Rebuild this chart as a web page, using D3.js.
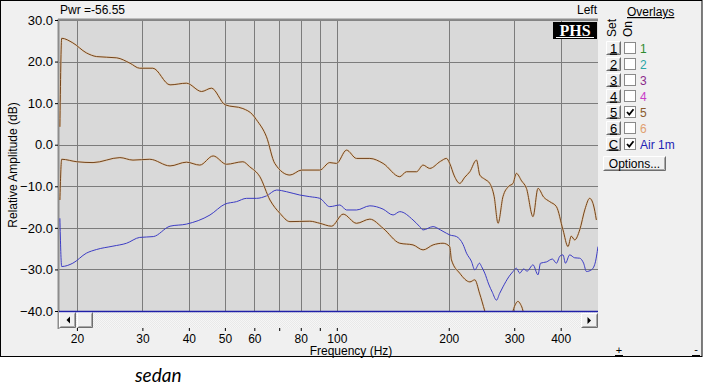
<!DOCTYPE html>
<html><head><meta charset="utf-8">
<script src="https://cdn.jsdelivr.net/npm/d3@7/dist/d3.min.js"></script>
<style>
html,body{margin:0;padding:0;background:#fff;}
svg{display:block;font-family:"Liberation Sans",Arial,sans-serif;}
</style></head>
<body>
<svg id="c" width="703" height="392"></svg>
<script>
// ---------- data ----------
const freqTicks = [20,30,40,50,60,70,80,90,100,200,300,400];
const freqLabels = ["20","30","40","50","60","","80","","100","200","300","400"];
const dbTicks = [30,20,10,0,-10,-20,-30,-40];

// Overlay 5 upper trace (freq Hz, dB)
const set5UpperFreq = [18.0,18.2,19.5,21.2,22.6,25.6,27.8,29.5,32.0,35.6,39.4,43.3,46.0,50.1,55.9,59.4,60.8,64.7,68.1,74.8,80.4,90.0,95.7,99.8,106.2,113,122.7,133.2,147.7,153.9,163.8,170.6,177.8,190,197.2,201.2,207,214.1,221,227.9,237.5,242.4,250,257.8,265,271.4,279.8,290,297.8,304,314,323.6,337,347.6,360,373.8,389.6,405.8,418.6,427,436.4,450,465,478.6,490,499];
const set5UpperDb   = [4.3,25.6,24.5,22.1,21.2,20.9,19.6,18.4,18.4,14.4,14.8,12.8,13.6,9.6,8.7,7.2,6.0,1.9,-4.5,-7.3,-6.1,-6.1,-4.3,-4.5,-1.3,-3.3,-3.3,-4.5,-7.7,-6.5,-6.5,-4.9,-5.7,-4.0,-3.3,-4.5,-7.5,-9.3,-7.8,-6.5,-3.7,-7.3,-8.3,-9.3,-12.5,-18.9,-12.5,-10.0,-9.3,-6.9,-8.7,-10.5,-17.3,-10.5,-12.6,-13.7,-14.9,-20.5,-24.5,-22.0,-22.9,-20.5,-15.5,-12.9,-14.5,-18.1];

// Overlay 5 lower trace
const set5LowerFreq = [18.0,18.2,20.0,22.1,26.1,28.3,31.4,35.6,39.4,42.8,46.5,50.5,55.9,58.3,62.1,66.1,70.3,74.8,84.6,90.0,96.8,104.0,113,122.7,133.2,147.7,160.3,170.6,181.5,193.1,201.2,203.4,214,228,235,242,250,258,265,292,297.8,303,307,312,316.8,322];
const set5LowerDb   = [-13.3,-3.5,-4.1,-4.3,-3.1,-3.7,-3.5,-5.1,-4.2,-4.9,-2.7,-4.7,-4.1,-5.3,-7.7,-13.3,-16.5,-18.5,-18.4,-18.9,-19.6,-16.7,-18.9,-17.9,-20.1,-23.7,-24.1,-25.3,-24.1,-23.7,-24.5,-27.7,-30.9,-33.0,-32.5,-35.7,-40.0,-44,-46,-44,-40.0,-38.2,-37.7,-38.4,-40.0,-44];

// Current "Air 1m" trace
const air1mFreq = [18.0,18.2,19.5,21.2,22.6,25.0,27.2,29.5,32.1,35.6,39.4,45.6,50.0,53.7,57.2,60.8,64.7,68.9,73.2,79.5,84.6,90.0,95.7,101.9,106.2,113,122.7,133.2,141.7,147.7,160.3,167.1,170.6,181.5,190,197.2,201.2,209.8,218.6,223.3,230,235,242,245,250,256,262,268.8,274,279.8,290,297.8,304,310.4,318,325,337,347.6,353,366.2,380,389.6,398,405.8,412,423,436,450,461,469.2,483.8,495,504];
const air1mDb   = [-17.7,-29.3,-28.5,-26.1,-25.2,-24.4,-23.7,-22.3,-22.1,-19.6,-19.1,-16.9,-14.3,-13.7,-12.9,-12.9,-12.3,-10.9,-11.3,-12.1,-12.5,-12.9,-14.9,-14.5,-15.7,-15.7,-14.7,-15.5,-16.9,-16.1,-18.1,-19.7,-20.5,-19.7,-20.5,-21.3,-21.7,-22.1,-24.0,-26.1,-28.0,-30.1,-28.5,-29.3,-30.9,-33.5,-35.5,-37.4,-35.8,-34.2,-31.8,-30.5,-29.7,-30.9,-29.9,-30.4,-28.9,-31.3,-28.5,-28.2,-27.5,-28.5,-26.8,-26.5,-28.5,-26.5,-27.2,-27.3,-28.5,-30.5,-30.1,-28.5,-24.5];

const overlayNames  = ["1","2","3","4","5","6","Air 1m"];
const overlayButtons = ["1","2","3","4","5","6","C"];
const overlayOn     = [false,false,false,false,true,false,true];
const overlayColors = ["#2e8b2e","#2aa6a6","#8b2a8b","#c83cc8","#8a5a2c","#e0a070","#2323b4"];

// ---------- drawing ----------
const FS = 12;
const svg = d3.select("#c");
const L = 59, R = 598, T = 20, B = 311;
const x = d3.scaleLog().domain([17.9, 504]).range([L, R]);
const y = d3.scaleLinear().domain([-40, 30]).range([B, T]);

// window panel
svg.append("rect").attr("x",0.5).attr("y",0.5).attr("width",701.5).attr("height",356)
  .attr("fill","#f0f0f0").attr("stroke","#000").attr("stroke-width",1);

// plot background
svg.append("rect").attr("x",L).attr("y",T).attr("width",R-L).attr("height",B-T).attr("fill","#d9d9d9");

// grid
const grid = svg.append("g").attr("stroke","#7c7c7c").attr("stroke-width",1);
freqTicks.forEach(f=>{
  const px = Math.round(x(f))+0.5;
  grid.append("line").attr("x1",px).attr("x2",px).attr("y1",T).attr("y2",B);
});
dbTicks.forEach(d=>{
  const py = Math.round(y(d))+0.5;
  grid.append("line").attr("x1",L).attr("x2",R).attr("y1",py).attr("y2",py);
});
// top & left border of plot
svg.append("line").attr("x1",L-1).attr("x2",R).attr("y1",T-0.5).attr("y2",T-0.5).attr("stroke","#8c8c8c").attr("stroke-width",2);
svg.append("line").attr("x1",L-0.5).attr("x2",L-0.5).attr("y1",T-1).attr("y2",B+18).attr("stroke","#8c8c8c").attr("stroke-width",2);

// clip
svg.append("clipPath").attr("id","pc").append("rect").attr("x",L).attr("y",T).attr("width",R-L).attr("height",B-T);
const plot = svg.append("g").attr("clip-path","url(#pc)");

const line = d3.line().x(d=>x(d[0])).y(d=>y(d[1])).curve(d3.curveMonotoneX);
function zip(a,b){return a.map((v,i)=>[v,b[i]]);}
function trace(fr, db, color, halo){
  const pts = zip(fr, db);
  if (halo) plot.append("path").attr("d",line(pts)).attr("fill","none").attr("stroke",halo).attr("stroke-width",2.2).attr("opacity",0.6);
  plot.append("path").attr("d",line(pts)).attr("fill","none").attr("stroke",color).attr("stroke-width",1);
}
trace(air1mFreq, air1mDb, "#3c3cc4", null);
trace(set5UpperFreq, set5UpperDb, "#74441a", "#e6c9a8");
trace(set5LowerFreq, set5LowerDb, "#74441a", "#e6c9a8");

// y axis
const yAxis = d3.axisLeft(y).tickValues(dbTicks).tickFormat(d3.format(".1f")).tickSize(3).tickPadding(2);
const ya = svg.append("g").attr("transform",`translate(${L-1},0)`).call(yAxis);
ya.attr("font-family",null).attr("font-size",null);
ya.select(".domain").remove();
ya.selectAll("line").attr("stroke","#000");
ya.selectAll("text").attr("font-size",13).attr("fill","#000");

// scrollbar
const sb = svg.append("g");
const defs = svg.append("defs");
const pat = defs.append("pattern").attr("id","hatch").attr("width",2).attr("height",2).attr("patternUnits","userSpaceOnUse");
pat.append("rect").attr("width",2).attr("height",2).attr("fill","#f6f6f6");
pat.append("rect").attr("width",1).attr("height",1).attr("fill","#e9e9e9");
pat.append("rect").attr("x",1).attr("y",1).attr("width",1).attr("height",1).attr("fill","#e9e9e9");
sb.append("rect").attr("x",L).attr("y",312).attr("width",R-L).attr("height",16).attr("fill","url(#hatch)");
function btn3d(g,x0,y0,w,h){
  g.append("rect").attr("x",x0).attr("y",y0).attr("width",w).attr("height",h).attr("fill","#f0f0f0");
  g.append("path").attr("d",`M${x0+0.5},${y0+h-0.5}V${y0+0.5}H${x0+w-0.5}`).attr("stroke","#fff").attr("fill","none");
  g.append("path").attr("d",`M${x0+0.5},${y0+h-0.5}H${x0+w-0.5}V${y0+0.5}`).attr("stroke","#6e6e6e").attr("fill","none");
  g.append("path").attr("d",`M${x0+1.5},${y0+h-1.5}H${x0+w-1.5}V${y0+1.5}`).attr("stroke","#a8a8a8").attr("fill","none");
}
btn3d(sb,L,312,17,16);
btn3d(sb,77,312,16,16);
btn3d(sb,581,313,17,15);
sb.append("path").attr("d","M70,316.5 L66.5,320 L70,323.5Z").attr("fill","#000");
sb.append("path").attr("d","M587.5,317 L591,320.5 L587.5,324Z").attr("fill","#000");
// blue baseline
svg.append("line").attr("x1",L).attr("x2",R).attr("y1",B+0.5).attr("y2",B+0.5).attr("stroke","#2020a8").attr("stroke-width",1.5);

// x axis
const xAxis = d3.axisBottom(x).tickValues(freqTicks).tickFormat((d,i)=>freqLabels[i]).tickSize(3).tickPadding(3);
const xa = svg.append("g").attr("transform","translate(0,328)").call(xAxis);
xa.attr("font-family",null).attr("font-size",null);
xa.select(".domain").remove();
xa.selectAll("line").attr("stroke","#000");
xa.selectAll("text").attr("font-size",FS).attr("fill","#000");

svg.append("text").attr("x",351).attr("y",355).attr("text-anchor","middle").attr("font-size",FS).text("Frequency (Hz)");
svg.append("text").attr("transform","translate(17,165) rotate(-90)").attr("text-anchor","middle").attr("font-size",FS).text("Relative Amplitude (dB)");
svg.append("text").attr("x",60).attr("y",14).attr("font-size",FS).text("Pwr =-56.55");
svg.append("text").attr("x",597).attr("y",14).attr("text-anchor","end").attr("font-size",FS).text("Left");

// PHS logo
svg.append("rect").attr("x",553).attr("y",22).attr("width",44).attr("height",17).attr("fill","#000");
svg.append("text").attr("x",575).attr("y",35.5).attr("text-anchor","middle").style("font-family","'Liberation Serif','Times New Roman',serif")
  .attr("font-weight","bold").attr("font-size",16).attr("fill","#fff").text("PHS");
svg.append("line").attr("x1",556).attr("x2",594).attr("y1",37.5).attr("y2",37.5).attr("stroke","#fff").attr("stroke-width",1);

// overlays panel
svg.append("text").attr("x",627).attr("y",16).attr("font-size",FS).attr("text-decoration","underline").text("Overlays");
svg.append("text").attr("transform","translate(616,37) rotate(-90)").attr("font-size",FS).text("Set");
svg.append("text").attr("transform","translate(632,37) rotate(-90)").attr("font-size",FS).text("On");

const ov = svg.append("g");
overlayNames.forEach((n,i)=>{
  const yy = 41 + i*16;
  btn3d(ov,606,yy,15,14);
  ov.append("text").attr("x",613.5).attr("y",yy+11.5).attr("text-anchor","middle").attr("font-size",13)
    .attr("text-decoration","underline").text(overlayButtons[i]);
  ov.append("rect").attr("x",624.5).attr("y",yy+1.5).attr("width",11).attr("height",11).attr("fill","#fff").attr("stroke","#8a8a8a");
  if (overlayOn[i]) {
    ov.append("path").attr("d",`M627,${yy+7} L629.3,${yy+9.6} L633.5,${yy+4.2}`).attr("fill","none").attr("stroke","#000").attr("stroke-width",1.8);
  }
  ov.append("text").attr("x",640).attr("y",yy+12).attr("font-size",FS).attr("fill",overlayColors[i]).text(n);
});
btn3d(ov,603,156,63,15);
ov.append("text").attr("x",634.5).attr("y",168).attr("text-anchor","middle").attr("font-size",FS).text("Options...");

// small +/- buttons
svg.append("text").attr("x",619).attr("y",354).attr("text-anchor","middle").attr("font-size",11).text("+");
svg.append("line").attr("x1",615).attr("x2",623).attr("y1",355.5).attr("y2",355.5).attr("stroke","#000");
svg.append("text").attr("x",696).attr("y",353).attr("text-anchor","middle").attr("font-size",11).text("-");
svg.append("line").attr("x1",692).attr("x2",700).attr("y1",355.5).attr("y2",355.5).attr("stroke","#000");

// caption
svg.append("text").attr("x",135).attr("y",382).style("font-family","Lato, sans-serif").attr("font-style","italic").attr("font-size",19).text("sedan");
</script>
</body></html>
